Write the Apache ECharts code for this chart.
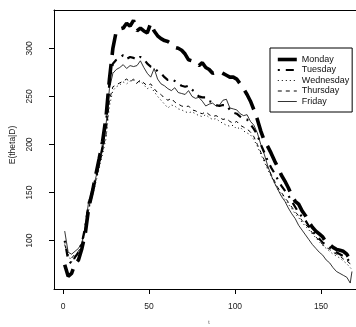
<!DOCTYPE html>
<html>
<head>
<meta charset="utf-8">
<script src="https://cdn.jsdelivr.net/npm/echarts@6/dist/echarts.min.js"></script>
<style>
html,body{margin:0;padding:0;background:#fff;}
#chart{width:356px;height:327px;}
</style>
</head>
<body>
<div id="chart"></div>
<script>
// hours sampled (every 2 hours, plus the last hour)
var hours = [1,3,5,7,9,11,13,15,17,19,21,23,25,27,29,31,33,35,37,39,41,43,45,47,49,51,53,55,57,59,61,63,65,67,69,71,73,75,77,79,81,83,85,87,89,91,93,95,97,99,101,103,105,107,109,111,113,115,117,119,121,123,125,127,129,131,133,135,137,139,141,143,145,147,149,151,153,155,157,159,161,163,165,167,168];

var monday = [75,63,66,76,80,92,108,135,150,168,185,203,228,268,300,318,320,321,326,323,329,318,321,318,316,326,318,313,310,308,307,305,301,300,298,294,288,287,285,282,285,280,278,274,275,276,274,272,270,270,268,263,258,252,245,236,226,214,204,198,191,183,176,168,162,155,147,141,138,131,126,119,114,110,107,104,98,96,93,91,90,89,86,80,79];

var tuesday = [100,80,76,83,88,98,115,140,152,165,180,198,222,265,284,288,290,293,289,291,290,288,291,289,284,281,280,276,274,270,267,268,266,263,261,260,261,257,254,250,249,249,245,244,241,240,241,241,236,233,232,229,227,226,221,216,210,200,192,183,176,170,163,157,152,147,141,135,129,125,121,115,110,106,102,98,96,93,91,88,86,84,82,77,74];

var wednesday = [98,86,78,82,86,95,110,132,146,160,175,190,206,240,256,260,262,265,263,266,267,263,266,262,258,260,255,250,246,242,238,241,240,237,236,234,233,234,232,230,229,231,228,226,227,224,222,220,219,220,216,218,214,212,210,205,198,190,182,174,167,160,153,148,143,138,133,128,124,119,115,111,107,103,99,95,92,89,86,84,82,79,76,72,70];

var thursday = [96,84,82,86,89,96,112,134,148,162,177,193,210,246,260,262,264,266,268,265,268,264,267,264,261,263,258,254,252,248,246,248,244,242,240,239,240,236,235,233,232,234,231,229,230,228,226,227,224,222,224,220,218,216,213,208,200,192,184,176,169,162,155,150,145,140,135,130,126,121,117,113,108,104,100,96,93,91,88,86,84,81,79,76,74];

var friday = [110,88,86,89,92,98,115,142,152,165,180,196,220,258,274,278,280,283,279,282,281,282,287,280,274,270,279,268,263,261,258,256,259,254,253,252,256,250,248,249,245,240,242,243,240,241,246,247,238,237,236,232,230,231,224,220,212,200,190,178,168,160,153,146,141,134,128,123,116,111,106,101,96,92,88,85,80,77,72,68,66,64,62,56,68];

var seriesNames = ['Monday','Tuesday','Wednesday','Thursday','Friday'];
var xTicks = [0,50,100,150];
var yTicks = [100,150,200,250,300];
var xLabel = 't';
var yLabel = 'E(theta|D)';

function pairs(vals){ return vals.map(function(v,i){ return [hours[i], v]; }); }

var styles = [
  {width:3.6, type:[21,9]},
  {width:2.2, type:[2,6,8,6]},
  {width:1, type:[1,3]},
  {width:1, type:[4,4]},
  {width:0.8, type:'solid'}
];
var allVals = [monday,tuesday,wednesday,thursday,friday];

var FONT = 'Liberation Sans, Arial, Helvetica, sans-serif';
var chart = echarts.init(document.getElementById('chart'), null, {renderer:'canvas'});
chart.setOption({
  animation:false,
  backgroundColor:'#fff',
  grid:{left:54, right:0, top:10, bottom:38, containLabel:false},
  xAxis:[{
    type:'value', min:-5.23, max:170.35,
    axisLine:{show:true, onZero:false, lineStyle:{color:'#000', width:1}},
    axisTick:{show:true, length:5, customValues:xTicks, lineStyle:{color:'#000'}},
    axisLabel:{show:true, customValues:xTicks, margin:13, fontSize:8.5, color:'#222', fontFamily:FONT},
    splitLine:{show:false}
  },{
    type:'value', position:'top', min:-5.23, max:170.35,
    axisLine:{show:true, onZero:false, lineStyle:{color:'#000', width:1}},
    axisTick:{show:false}, axisLabel:{show:false}, splitLine:{show:false}
  }],
  yAxis:{
    type:'value', min:49.8, max:339.8,
    axisLine:{show:true, onZero:false, lineStyle:{color:'#000', width:1}},
    axisTick:{show:true, length:5, customValues:yTicks, lineStyle:{color:'#000'}},
    axisLabel:{show:true, customValues:yTicks, rotate:90, margin:20, fontSize:8.5, color:'#222', fontFamily:FONT},
    splitLine:{show:false}
  },
  legend:{
    orient:'vertical', left:270, top:48,
    padding:[7,3,6,6],
    backgroundColor:'#fff', borderColor:'#000', borderWidth:1,
    itemWidth:19, itemHeight:8, itemGap:1.5,
    itemStyle:{opacity:0},
    textStyle:{fontSize:9, lineHeight:9, color:'#111', fontFamily:FONT},
    data: seriesNames.map(function(n,i){
      return {name:n, lineStyle:{color:'#000', width:styles[i].width, type:styles[i].type, cap:'butt'}};
    })
  },
  graphic:[
    {type:'text', x:13, y:145, rotation:Math.PI/2,
     style:{text:yLabel, fill:'#222', font:'8.5px '+FONT, align:'center', verticalAlign:'middle'}},
    {type:'text', x:209, y:323,
     style:{text:xLabel, fill:'#444', font:'5px '+FONT, align:'center', verticalAlign:'middle'}}
  ],
  series: seriesNames.map(function(n,i){
    return {
      name:n, type:'line', data:pairs(allVals[i]),
      showSymbol:false, symbol:'none', smooth:false,
      lineStyle:{color:'#000', width:styles[i].width, type:styles[i].type, cap:'butt'},
      itemStyle:{color:'#000'}
    };
  })
});
</script>
</body>
</html>
